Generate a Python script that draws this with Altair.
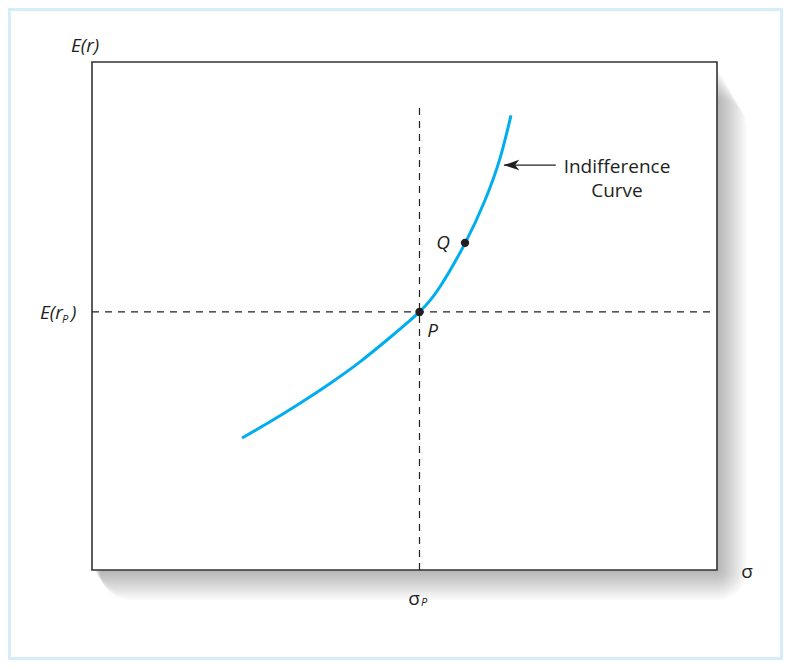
import altair as alt
import pandas as pd

# ---- data (conceptual units 0..100 on both axes) ----
curve_x = [24.0, 28.48, 33.28, 38.08, 42.88, 47.68, 52.4, 55.68, 59.68, 62.88, 65.28, 67.04]
curve_y = [25.98, 29.17, 32.83, 36.73, 40.98, 45.77, 50.8, 55.75, 64.3, 72.78, 81.04, 89.49]

point_names = ["P", "Q"]
point_x = [52.4, 59.68]
point_y = [50.8, 64.4]

sigma_p = 52.4
er_p = 50.8
vline_top = 92.1
hline_right = 99.2

arrow_tip_x = 65.9
arrow_tail_x = 74.2
arrow_y = 79.7

W, H = 625, 508
FONT = "Open Sans"
INK = "#231f20"

xs = alt.Scale(domain=[0, 100], nice=False, zero=False)
ys = alt.Scale(domain=[0, 100], nice=False, zero=False)

one = pd.DataFrame({"a": [0]})
curve_df = pd.DataFrame({"x": curve_x, "y": curve_y})
pts_df = pd.DataFrame({"name": point_names, "x": point_x, "y": point_y})
vline_df = pd.DataFrame({"x": [sigma_p], "y": [0], "y2": [vline_top]})
hline_df = pd.DataFrame({"y": [er_p], "x": [0], "x2": [hline_right]})
arrow_df = pd.DataFrame({"x": [arrow_tip_x], "x2": [arrow_tail_x], "y": [arrow_y]})

# white page inside light-blue frame
page = alt.Chart(one).mark_rect(fill="white").encode(
    x=alt.value(-81), x2=alt.value(688), y=alt.value(-51), y2=alt.value(595)
)

# soft drop shadow (stack of faint, growing, rounded rects)
shadows = [
    alt.Chart(one).mark_rect(fill="black", opacity=0.02, cornerRadius=e).encode(
        x=alt.value(2 + 0.2 * e), x2=alt.value(W + e),
        y=alt.value(6 + e), y2=alt.value(H + e),
    )
    for e in range(2, 32, 2)
]

box = alt.Chart(one).mark_rect(fill="white", stroke="#333333", strokeWidth=1.6).encode(
    x=alt.value(0), x2=alt.value(W), y=alt.value(0), y2=alt.value(H)
)

vline = alt.Chart(vline_df).mark_rule(color=INK, strokeWidth=1.2, strokeDash=[7, 6]).encode(
    x=alt.X("x:Q", scale=xs, axis=None),
    y=alt.Y("y:Q", scale=ys, axis=None),
    y2="y2:Q",
)
hline = alt.Chart(hline_df).mark_rule(color=INK, strokeWidth=1.2, strokeDash=[7, 6]).encode(
    y=alt.Y("y:Q", scale=ys, axis=None),
    x=alt.X("x:Q", scale=xs, axis=None),
    x2="x2:Q",
)

curve = alt.Chart(curve_df).mark_line(color="#00aeef", strokeWidth=3, interpolate="natural").encode(
    x=alt.X("x:Q", scale=xs, axis=None),
    y=alt.Y("y:Q", scale=ys, axis=None),
)

points = alt.Chart(pts_df).mark_circle(size=70, color=INK, opacity=1).encode(
    x=alt.X("x:Q", scale=xs, axis=None),
    y=alt.Y("y:Q", scale=ys, axis=None),
)

p_label = alt.Chart(pts_df[pts_df.name == "P"]).mark_text(
    font=FONT, fontSize=19, fontStyle="italic", color=INK, dx=13, dy=19
).encode(x=alt.X("x:Q", scale=xs), y=alt.Y("y:Q", scale=ys), text="name:N")
q_label = alt.Chart(pts_df[pts_df.name == "Q"]).mark_text(
    font=FONT, fontSize=19, fontStyle="italic", color=INK, dx=-22, dy=0
).encode(x=alt.X("x:Q", scale=xs), y=alt.Y("y:Q", scale=ys), text="name:N")

arrow_line = alt.Chart(arrow_df).mark_rule(color=INK, strokeWidth=1.3).encode(
    x=alt.X("x:Q", scale=xs), x2="x2:Q", y=alt.Y("y:Q", scale=ys)
)
arrow_head = alt.Chart(arrow_df).mark_point(
    shape="M0,0 L2.2,-0.75 L1.6,0 L2.2,0.75 Z", size=196, filled=True, color=INK, opacity=1
).encode(x=alt.X("x:Q", scale=xs), y=alt.Y("y:Q", scale=ys))

def label(txt, x, y, size=19, style="normal", align="center", baseline="middle"):
    return alt.Chart(one).mark_text(
        text=txt, font=FONT, fontSize=size, fontStyle=style, color=INK,
        align=align, baseline=baseline,
    ).encode(x=alt.value(x), y=alt.value(y))

texts = [
    label("Indifference", 525, 105),
    label("Curve", 525, 129),
    label("E(r)", -7, -16, style="italic"),
    label("E(r", -52, 257, style="italic", align="left", baseline="alphabetic"),
    label("P", -30, 261, size=11, style="italic", align="left", baseline="alphabetic"),
    label(")", -21, 257, style="italic", align="left", baseline="alphabetic"),
    label("σ", 655, 510),
    label("σ", 322, 537),
    label("P", 329, 544, size=11, style="italic", align="left", baseline="alphabetic"),
]

chart = alt.layer(
    page, *shadows, box, vline, hline, curve, points, p_label, q_label,
    arrow_line, arrow_head, *texts
).properties(
    width=W, height=H,
    padding={"left": 84, "top": 54, "right": 66, "bottom": 90},
    autosize=alt.AutoSizeParams(type="none"),
).configure(background="#d5edf9").configure_view(stroke=None)

chart.save("out.html", embed_options={"renderer": "svg", "actions": False})
